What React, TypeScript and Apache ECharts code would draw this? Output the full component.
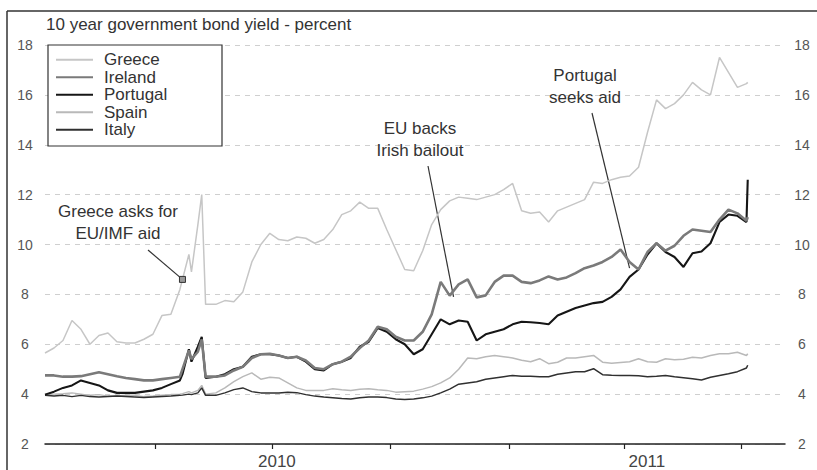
import React, { useEffect, useRef } from 'react';
import * as echarts from 'echarts';

// ---- data ----
const dates = [
  '2010-01-05','2010-01-12','2010-01-19','2010-01-26','2010-02-02','2010-02-09','2010-02-16','2010-02-23','2010-03-02','2010-03-09','2010-03-16','2010-03-23','2010-03-30','2010-04-06','2010-04-13','2010-04-20',
  '2010-04-22','2010-04-27','2010-04-29','2010-05-04','2010-05-07','2010-05-10',
  '2010-05-18','2010-05-25','2010-06-01','2010-06-08','2010-06-15','2010-06-22','2010-06-29','2010-07-06','2010-07-13','2010-07-20','2010-07-27','2010-08-03','2010-08-10','2010-08-17','2010-08-24','2010-08-31',
  '2010-09-07','2010-09-14','2010-09-21','2010-09-28','2010-10-05','2010-10-12','2010-10-19','2010-10-26','2010-11-02','2010-11-09','2010-11-16','2010-11-23','2010-11-30','2010-12-07','2010-12-14','2010-12-21','2010-12-28',
  '2011-01-04','2011-01-11','2011-01-18','2011-01-25','2011-02-01','2011-02-08','2011-02-15','2011-02-22','2011-03-01','2011-03-08','2011-03-15','2011-03-22','2011-03-29',
  '2011-04-05','2011-04-12','2011-04-19','2011-04-26','2011-05-03','2011-05-10','2011-05-17','2011-05-24','2011-05-31','2011-06-07','2011-06-14','2011-06-21','2011-06-28','2011-07-05','2011-07-06',
];

const greece = [
  5.65, 5.85, 6.15, 6.95, 6.6, 6.0, 6.35, 6.45, 6.1, 6.05, 6.05, 6.2, 6.4, 7.15, 7.2, 8.2,
  8.6, 9.6, 8.9, 10.8, 12.0, 7.6,
  7.6, 7.75, 7.7, 8.1, 9.3, 10.0, 10.45, 10.2, 10.15, 10.3, 10.25, 10.05, 10.2, 10.6, 11.2, 11.35,
  11.7, 11.45, 11.45, 10.6, 9.8, 9.0, 8.95, 9.75, 10.8, 11.4, 11.75, 11.9, 11.85, 11.8, 11.9, 12.0, 12.2,
  12.45, 11.35, 11.25, 11.3, 10.9, 11.35, 11.5, 11.65, 11.8, 12.5, 12.45, 12.6, 12.7,
  12.75, 13.1, 14.5, 15.8, 15.45, 15.65, 16.0, 16.5, 16.2, 16.0, 17.5, 16.9, 16.3, 16.45, 16.5,
];

const ireland = [
  4.75, 4.75, 4.7, 4.7, 4.72, 4.8, 4.88, 4.8, 4.72, 4.65, 4.6, 4.55, 4.55, 4.6, 4.65, 4.7,
  5.0, 5.75, 5.4, 5.7, 6.2, 4.7,
  4.7, 4.75, 4.95, 5.1, 5.45, 5.6, 5.62, 5.55, 5.45, 5.5, 5.35, 5.05, 5.0, 5.2, 5.3, 5.5,
  5.85, 6.15, 6.7, 6.6, 6.3, 6.15, 6.15, 6.5, 7.2, 8.5, 7.95, 8.4, 8.6, 7.88, 7.96, 8.5, 8.75,
  8.75, 8.5, 8.45, 8.56, 8.72, 8.6, 8.68, 8.85, 9.05, 9.16, 9.3, 9.5, 9.8,
  9.3, 9.0, 9.7, 10.05, 9.75, 9.95, 10.35, 10.6, 10.55, 10.5, 11.0, 11.4, 11.25, 10.95, 11.1,
];

const portugal = [
  3.98, 4.1, 4.25, 4.35, 4.55, 4.45, 4.35, 4.15, 4.05, 4.05, 4.05, 4.1, 4.15, 4.25, 4.4, 4.55,
  4.8, 5.8, 5.3, 5.9, 6.3, 4.65,
  4.7, 4.8, 5.0, 5.1, 5.5, 5.6, 5.6, 5.55, 5.45, 5.5, 5.3, 5.0, 4.95, 5.2, 5.3, 5.45,
  5.9, 6.1, 6.65, 6.5, 6.2, 6.0, 5.6, 5.8, 6.4, 7.0, 6.8, 6.95, 6.9, 6.15, 6.4, 6.5, 6.6,
  6.8, 6.9, 6.88, 6.85, 6.8, 7.15, 7.3, 7.45, 7.55, 7.65, 7.7, 7.9, 8.2,
  8.7, 9.0, 9.6, 10.05, 9.7, 9.5, 9.1, 9.65, 9.72, 10.05, 10.9, 11.2, 11.15, 10.9, 12.6,
];

const spain = [
  3.98, 4.0, 4.02, 4.05, 4.0, 3.95, 3.98, 3.92, 3.92, 3.95, 3.95, 3.9, 3.92, 3.95, 3.98, 4.0,
  4.02, 4.1, 4.05, 4.15, 4.35, 4.0,
  4.05, 4.25, 4.5, 4.7, 4.85, 4.6, 4.68, 4.65, 4.45, 4.25, 4.15, 4.15, 4.15, 4.22, 4.18, 4.15,
  4.2, 4.22, 4.18, 4.15, 4.08, 4.1, 4.12, 4.2, 4.3, 4.45, 4.65, 5.0, 5.45, 5.42, 5.5, 5.55, 5.5,
  5.45, 5.36, 5.3, 5.42, 5.22, 5.28, 5.45, 5.45, 5.5, 5.55, 5.28, 5.24, 5.27,
  5.3, 5.42, 5.3, 5.28, 5.42, 5.38, 5.4, 5.48, 5.45, 5.55, 5.62, 5.62, 5.68, 5.55, 5.62,
];

const italy = [
  3.95, 3.92, 3.95, 3.9, 3.95, 3.9, 3.88, 3.9, 3.92, 3.9, 3.88, 3.86, 3.88, 3.9, 3.92, 3.95,
  3.96, 4.0, 3.98, 4.05, 4.25, 3.95,
  3.95, 4.05, 4.18, 4.25, 4.1, 4.05, 4.05, 4.05, 4.08, 4.06, 3.98, 3.92, 3.88, 3.85, 3.82, 3.8,
  3.85, 3.88, 3.88, 3.86, 3.8, 3.78, 3.8, 3.85, 3.92, 4.05, 4.2, 4.4, 4.45, 4.5, 4.6, 4.65, 4.7,
  4.75, 4.72, 4.72, 4.7, 4.7, 4.8, 4.85, 4.9, 4.9, 5.02, 4.78, 4.76, 4.75,
  4.75, 4.74, 4.7, 4.72, 4.75, 4.7, 4.66, 4.62, 4.57, 4.68, 4.75, 4.82, 4.9, 5.05, 5.16,
];

const seriesNames = ['Greece', 'Ireland', 'Portugal', 'Spain', 'Italy'];
const axisStart = '2010-01-05';
const axisEnd = '2011-08-04';
const quarterTicks = ['2010-04-01', '2010-07-01', '2010-10-01', '2011-01-01', '2011-04-01', '2011-07-01'];
const yearLabels = ['2010', '2011'];
const yearStarts = ['2010-01-01', '2011-01-01'];
const yMin = 2;
const yMax = 18;
const yStep = 2;

const titleText = '10 year government bond yield - percent';
const annotationTexts = ['Greece asks for\nEU/IMF aid', 'EU backs\nIrish bailout', 'Portugal\nseeks aid'];
const annotationDates = ['2010-04-22', '2010-11-19', '2011-04-05'];
const annotationValues = [8.6, 7.9, 9.05];

const FONT = "'Liberation Sans', Arial, Helvetica, sans-serif";

function dayOf(s: string): number {
  const [y, m, d] = s.split('-').map(Number);
  return (Date.UTC(y, m - 1, d) - Date.UTC(2010, 0, 1)) / 86400000;
}

export default function App() {
  const ref = useRef<HTMLDivElement>(null);

  useEffect(() => {
    if (!ref.current) return;
    const chart = echarts.init(ref.current, undefined, { renderer: 'svg' });

    const xMin = dayOf(axisStart);
    const xMax = dayOf(axisEnd);
    // year label centred on the visible part of each year
    const yearCentres = yearStarts.map((s, i) => {
      const a = Math.max(dayOf(s), xMin);
      const b = i + 1 < yearStarts.length ? dayOf(yearStarts[i + 1]) : xMax;
      return (a + Math.min(b, xMax)) / 2;
    });

    const xs = dates.map(dayOf);
    const values = [greece, ireland, portugal, spain, italy];
    const colors = ['#c6c6c6', '#7a7a7a', '#161616', '#b9b9b9', '#303030'];
    const widths = [1.5, 2.6, 2.1, 1.5, 1.5];
    const zs = [1, 4, 3, 2, 2];

    const option: any = {
      animation: false,
      grid: { left: 45, right: 32, top: 45, bottom: 26 },
      xAxis: {
        type: 'value',
        min: xMin,
        max: xMax,
        axisLine: { show: true, lineStyle: { color: '#222', width: 1.5 } },
        axisTick: {
          show: true,
          customValues: quarterTicks.map(dayOf),
          length: 5,
          lineStyle: { color: '#222', width: 1.2 },
        },
        axisLabel: {
          customValues: yearCentres,
          formatter: (v: number) => {
            let best = 0;
            yearCentres.forEach((c, i) => {
              if (Math.abs(c - v) < Math.abs(yearCentres[best] - v)) best = i;
            });
            return yearLabels[best];
          },
          fontSize: 17,
          fontFamily: FONT,
          color: '#444',
          margin: 9,
        },
        splitLine: { show: false },
      },
      yAxis: [
        {
          type: 'value',
          min: yMin,
          max: yMax,
          interval: yStep,
          axisLine: { show: false },
          axisTick: { show: false },
          axisLabel: { fontSize: 14, fontFamily: FONT, color: '#555', align: 'center', margin: 20 },
          splitLine: { show: true, lineStyle: { color: '#cfcfcf', type: [5, 5], width: 1 } },
        },
        {
          type: 'value',
          position: 'right',
          min: yMin,
          max: yMax,
          interval: yStep,
          axisLine: { show: false },
          axisTick: { show: false },
          axisLabel: { fontSize: 14, fontFamily: FONT, color: '#555', align: 'center', margin: 17 },
          splitLine: { show: false },
        },
      ],
      legend: {
        data: seriesNames,
        orient: 'vertical',
        left: 55,
        top: 51,
        padding: 0,
        itemWidth: 37,
        itemHeight: 14,
        itemGap: 0,
        itemStyle: { opacity: 0 },
        textStyle: { fontSize: 17, fontFamily: FONT, color: '#333', lineHeight: 17.5, padding: [0, 0, 0, 6] },
      },
      series: seriesNames.map((name, si) => ({
        name,
        type: 'line',
        data: xs.map((x, i) => [x, values[si][i]]),
        symbol: 'none',
        silent: true,
        z: zs[si],
        itemStyle: { color: colors[si] },
        lineStyle: { color: colors[si], width: widths[si] },
      })),
    };

    chart.setOption(option);

    const pts = annotationDates.map((d, i) =>
      chart.convertToPixel({ xAxisIndex: 0, yAxisIndex: 0 }, [dayOf(d), annotationValues[i]]) as number[]
    );

    const textBase = { fill: '#333', fontSize: 17, fontFamily: FONT, align: 'center', verticalAlign: 'top', lineHeight: 22.5 };

    chart.setOption({
      graphic: [
        // outer frame
        { type: 'line', shape: { x1: 7, y1: 11, x2: 817, y2: 11 }, style: { stroke: '#333', lineWidth: 1.5 }, silent: true },
        { type: 'line', shape: { x1: 7, y1: 11, x2: 7, y2: 470 }, style: { stroke: '#333', lineWidth: 1.5 }, silent: true },
        // title
        { type: 'text', x: 46, y: 24, style: { text: titleText, fill: '#333', fontSize: 17, fontFamily: FONT, verticalAlign: 'middle' }, silent: true },
        // legend box
        { type: 'rect', z: 3, shape: { x: 48, y: 45, width: 174, height: 101 }, style: { fill: '#fff', stroke: '#333', lineWidth: 1.2 }, silent: true },
        // annotations
        { type: 'text', x: 118, y: 200, style: { ...textBase, text: annotationTexts[0] }, silent: true },
        { type: 'line', shape: { x1: 148, y1: 250, x2: pts[0][0], y2: pts[0][1] }, style: { stroke: '#333', lineWidth: 1.2 }, silent: true },
        { type: 'rect', z: 5, shape: { x: pts[0][0] - 3, y: pts[0][1] - 3, width: 6, height: 6 }, style: { fill: '#999', stroke: '#333', lineWidth: 1 }, silent: true },
        { type: 'text', x: 420, y: 117, style: { ...textBase, text: annotationTexts[1] }, silent: true },
        { type: 'line', shape: { x1: 428, y1: 166, x2: pts[1][0], y2: pts[1][1] }, style: { stroke: '#333', lineWidth: 1.2 }, silent: true },
        { type: 'text', x: 585, y: 64, style: { ...textBase, text: annotationTexts[2] }, silent: true },
        { type: 'line', shape: { x1: 592, y1: 113, x2: pts[2][0], y2: pts[2][1] }, style: { stroke: '#333', lineWidth: 1.2 }, silent: true },
      ],
    });

    return () => chart.dispose();
  }, []);

  return (
    <div
      ref={ref}
      style={{ position: 'fixed', left: 0, top: 0, width: 817, height: 470, background: '#fff' }}
    />
  );
}
